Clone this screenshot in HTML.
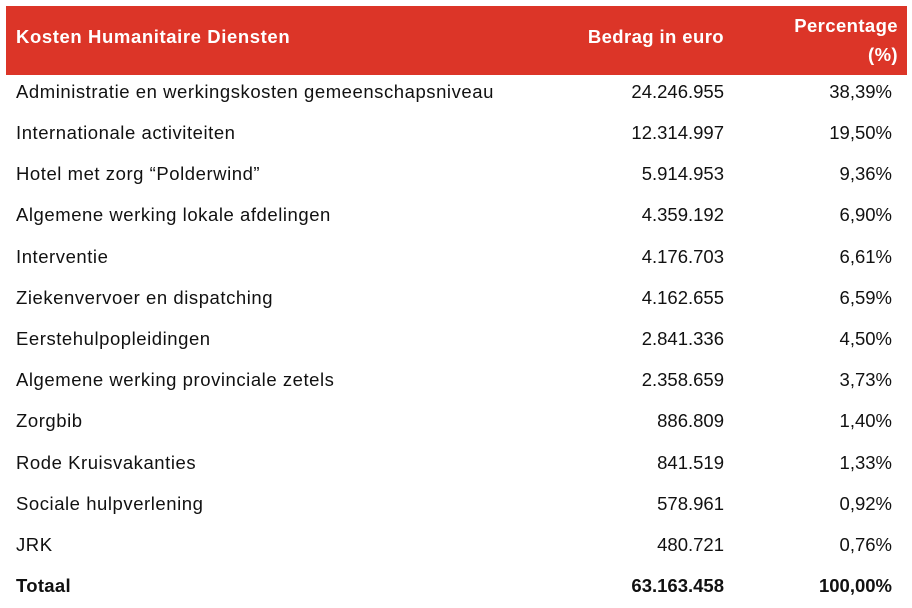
<!DOCTYPE html>
<html><head><meta charset="utf-8"><style>
html,body{margin:0;padding:0;background:#fff;width:912px;height:608px;overflow:hidden}
body{font-family:"Liberation Sans",sans-serif;color:#111;position:relative}
.hdr{position:absolute;left:6px;top:6px;width:901px;height:69px;background:#dc3528}
.h{position:absolute;color:#fff;font-weight:bold;font-size:18.5px;white-space:nowrap;letter-spacing:0.4px}
.r{position:absolute;left:0;width:912px;height:24px;font-size:18.5px;line-height:24px}
.r span{position:absolute;white-space:nowrap}
.a{left:16px;letter-spacing:0.55px}
.b{right:188px}
.c{right:20px}
.t{font-weight:bold}
.t .a{letter-spacing:0.3px}
</style></head><body>
<div class="hdr"></div>
<div class="h" style="left:16px;top:26px;letter-spacing:0.6px">Kosten Humanitaire Diensten</div>
<div class="h" style="right:188px;top:26px">Bedrag in euro</div>
<div class="h" style="right:14px;top:11px;text-align:right;line-height:29px">Percentage<br>(%)</div>

<div class="r" style="top:80px"><span class="a">Administratie en werkingskosten gemeenschapsniveau</span><span class="b">24.246.955</span><span class="c">38,39%</span></div>
<div class="r" style="top:121px"><span class="a">Internationale activiteiten</span><span class="b">12.314.997</span><span class="c">19,50%</span></div>
<div class="r" style="top:162px"><span class="a">Hotel met zorg “Polderwind”</span><span class="b">5.914.953</span><span class="c">9,36%</span></div>
<div class="r" style="top:203px"><span class="a">Algemene werking lokale afdelingen</span><span class="b">4.359.192</span><span class="c">6,90%</span></div>
<div class="r" style="top:245px"><span class="a">Interventie</span><span class="b">4.176.703</span><span class="c">6,61%</span></div>
<div class="r" style="top:286px"><span class="a">Ziekenvervoer en dispatching</span><span class="b">4.162.655</span><span class="c">6,59%</span></div>
<div class="r" style="top:327px"><span class="a">Eerstehulpopleidingen</span><span class="b">2.841.336</span><span class="c">4,50%</span></div>
<div class="r" style="top:368px"><span class="a">Algemene werking provinciale zetels</span><span class="b">2.358.659</span><span class="c">3,73%</span></div>
<div class="r" style="top:409px"><span class="a">Zorgbib</span><span class="b">886.809</span><span class="c">1,40%</span></div>
<div class="r" style="top:451px"><span class="a">Rode Kruisvakanties</span><span class="b">841.519</span><span class="c">1,33%</span></div>
<div class="r" style="top:492px"><span class="a">Sociale hulpverlening</span><span class="b">578.961</span><span class="c">0,92%</span></div>
<div class="r" style="top:533px"><span class="a">JRK</span><span class="b">480.721</span><span class="c">0,76%</span></div>
<div class="r t" style="top:574px"><span class="a">Totaal</span><span class="b">63.163.458</span><span class="c">100,00%</span></div>
</body></html>
